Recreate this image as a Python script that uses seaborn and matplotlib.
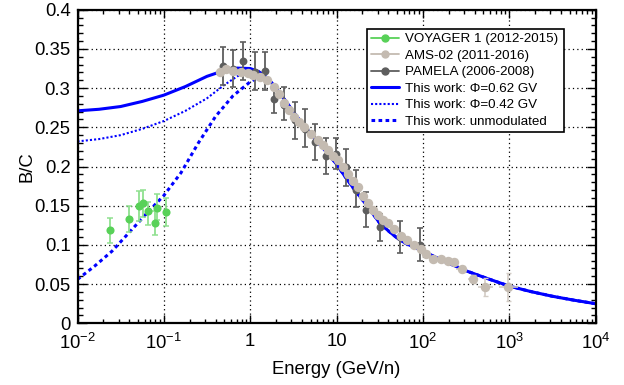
import matplotlib
matplotlib.use("Agg")
import matplotlib.pyplot as plt
import numpy as np
import pandas as pd
import seaborn as sns
from matplotlib.lines import Line2D
from matplotlib.ticker import FixedLocator, FixedFormatter, LogLocator, NullFormatter, MultipleLocator

# ---------------- data ----------------
voyager_E = [0.0238, 0.0396, 0.0516, 0.0580, 0.0662, 0.0797, 0.0843, 0.1064]
voyager_BC = [0.119, 0.133, 0.150, 0.153, 0.143, 0.1276, 0.1475, 0.1424]
voyager_top = [0.134, 0.149, 0.169, 0.170, 0.155, 0.143, 0.165, 0.160]
voyager_bot = [0.103, 0.117, 0.130, 0.136, 0.125, 0.113, 0.132, 0.1245]

pamela_E = [0.48, 0.64, 0.835, 1.13, 1.48, 1.88, 2.46, 3.27, 4.32, 5.64, 7.51, 9.8,
            12.8, 16.7, 21.9, 31.8, 55.0, 93.0]
pamela_BC = [0.328, 0.324, 0.334, 0.321, 0.322, 0.286, 0.279, 0.259, 0.248, 0.231, 0.2135,
             0.216, 0.199, 0.170, 0.1445, 0.1224, 0.110, 0.100]
pamela_top = [0.353, 0.349, 0.359, 0.346, 0.346, 0.304, 0.301, 0.2825, 0.273, 0.254, 0.236,
              0.236, 0.2225, 0.195, 0.168, 0.140, 0.1305, 0.121]
pamela_bot = [0.304, 0.301, 0.310, 0.298, 0.298, 0.268, 0.259, 0.2355, 0.225, 0.208, 0.191,
              0.197, 0.1755, 0.148, 0.123, 0.105, 0.0895, 0.079]

ams_E = [0.452, 0.530, 0.640, 0.775, 0.935, 1.09, 1.31, 1.55, 1.87, 2.13, 2.44, 2.79, 3.18,
         3.64, 4.17, 5.02, 6.05, 6.92, 7.92, 9.06, 10.35, 11.8, 13.5, 15.5, 17.7, 20.2, 23.1,
         26.4, 30.2, 34.5, 39.5, 46.4, 56.0, 65.7, 79.3, 95.5, 109.0, 132.0, 163.0, 197.0,
         231.0, 284.0, 381.0, 530.0, 973.0]
ams_BC = [0.321, 0.325, 0.322, 0.320, 0.319, 0.317, 0.3146, 0.310, 0.302, 0.292, 0.281, 0.272,
          0.2635, 0.257, 0.251, 0.242, 0.234, 0.227, 0.221, 0.214, 0.208, 0.199, 0.191, 0.182,
          0.174, 0.163, 0.153, 0.145, 0.138, 0.132, 0.1276, 0.120, 0.1115, 0.106, 0.100, 0.095,
          0.089, 0.0816, 0.0816, 0.080, 0.0786, 0.069, 0.0565, 0.0467, 0.0467]
ams_err = [0.002] * 36 + [0.003, 0.003, 0.003, 0.003, 0.003, 0.004, 0.005, 0.0115, 0.018]
ams_tail_E = [284.0, 381.0, 530.0, 973.0]
ams_tail_BC = [0.069, 0.0565, 0.0467, 0.0467]
ams_tail_lo = [244.0, 333.0, 437.0, 771.0]
ams_tail_hi = [327.0, 437.0, 652.0, 1274.0]

model_E = [0.01, 0.0178, 0.0316, 0.0562, 0.1, 0.178, 0.316, 0.501, 0.708, 1.0, 1.26, 1.58,
           2.0, 2.51, 3.16, 3.98, 5.01, 6.31, 7.94, 10.0, 12.6, 15.8, 20.0, 25.1, 31.6, 39.8,
           50.1, 63.1, 79.4, 100.0, 178.0, 316.0, 562.0, 1000.0, 1778.0, 3162.0, 5623.0, 10000.0]
bc_phi062 = [0.271, 0.273, 0.2765, 0.283, 0.291, 0.302, 0.315, 0.3225, 0.3255, 0.325, 0.321,
             0.313, 0.300, 0.285, 0.270, 0.255, 0.242, 0.229, 0.2165, 0.203, 0.187, 0.172,
             0.1575, 0.143, 0.128, 0.118, 0.109, 0.102, 0.097, 0.092, 0.079, 0.067, 0.057,
             0.0475, 0.0405, 0.0345, 0.0295, 0.025]
bc_phi042 = [0.232, 0.235, 0.240, 0.248, 0.258, 0.271, 0.287, 0.304, 0.315, 0.321, 0.3215,
             0.314, 0.300, 0.285, 0.270, 0.255, 0.242, 0.229, 0.2165, 0.203, 0.187, 0.172,
             0.1575, 0.143, 0.128, 0.118, 0.109, 0.102, 0.097, 0.092, 0.079, 0.067, 0.057,
             0.0475, 0.0405, 0.0345, 0.0295, 0.025]
unmod_E = [0.01, 0.0158, 0.0251, 0.0398, 0.0631, 0.1, 0.158, 0.251, 0.398, 0.631, 1.0, 1.26,
           1.58, 2.0, 2.51, 3.16, 3.98, 5.01, 6.31, 7.94, 10.0, 12.6, 15.8, 20.0, 25.1, 31.6,
           39.8, 50.1, 63.1, 79.4, 100.0, 178.0, 316.0, 562.0, 1000.0, 1778.0, 3162.0, 5623.0,
           10000.0]
bc_unmod = [0.056, 0.073, 0.092, 0.116, 0.140, 0.163, 0.192, 0.230, 0.264, 0.290, 0.308, 0.314,
            0.313, 0.300, 0.285, 0.270, 0.255, 0.242, 0.229, 0.2165, 0.203, 0.187, 0.172,
            0.1575, 0.143, 0.128, 0.118, 0.109, 0.102, 0.097, 0.092, 0.079, 0.067, 0.057,
            0.0475, 0.0405, 0.0345, 0.0295, 0.025]

x_ticks = [1e-2, 1e-1, 1, 10, 1e2, 1e3, 1e4]
x_ticklabels = ['$10^{-2}$', '$10^{-1}$', '1', '10', '$10^{2}$', '$10^{3}$', '$10^{4}$']
y_ticks = [0, 0.05, 0.1, 0.15, 0.2, 0.25, 0.3, 0.35, 0.4]
y_ticklabels = ['0', '0.05', '0.1', '0.15', '0.2', '0.25', '0.3', '0.35', '0.4']

labels = ['VOYAGER 1 (2012-2015)', 'AMS-02 (2011-2016)', 'PAMELA (2006-2008)',
          'This work: \u03a6=0.62 GV', 'This work: \u03a6=0.42 GV', 'This work: unmodulated']

# ---------------- style ----------------
sns.set_theme(style='ticks')
plt.rcParams['font.family'] = ['Liberation Sans', 'DejaVu Sans']
plt.rcParams['mathtext.fontset'] = 'custom'
plt.rcParams['mathtext.rm'] = 'Liberation Sans'
plt.rcParams['mathtext.it'] = 'Liberation Sans:italic'
plt.rcParams['mathtext.bf'] = 'Liberation Sans:bold'
plt.rcParams['axes.unicode_minus'] = True

GREEN = '#58d158'
GREEN_ERR = '#8fe08f'
TAN = '#c4bbb1'
TAN_ERR = '#d3ccc5'
GRAY = '#5e5e5e'
BLUE = '#0000ff'

fig = plt.figure(figsize=(6.24, 3.85), dpi=100)
fig.patch.set_facecolor('white')
L, R, T, B = 77.5, 595.5, 9.7, 323.3
ax = fig.add_axes([L / 624, 1 - B / 385, (R - L) / 624, (B - T) / 385])
ax.set_facecolor('white')

# model curves
sns.lineplot(x=unmod_E, y=bc_unmod, ax=ax, color=BLUE, linewidth=2.2,
             linestyle=(0, (1.2, 1.1)), sort=False, estimator=None, zorder=2)
sns.lineplot(x=model_E, y=bc_phi042, ax=ax, color=BLUE, linewidth=1.5,
             linestyle=(0, (1.0, 1.0)), sort=False, estimator=None, zorder=2)
sns.lineplot(x=model_E, y=bc_phi062, ax=ax, color=BLUE, linewidth=2.2,
             linestyle='-', sort=False, estimator=None, zorder=2.1)

# PAMELA
pe = np.array(pamela_E); pb = np.array(pamela_BC)
ax.errorbar(pe, pb, yerr=[pb - np.array(pamela_bot), np.array(pamela_top) - pb],
            fmt='none', ecolor=GRAY, elinewidth=1.3, capsize=2.2, capthick=1.2, zorder=3)
sns.scatterplot(x=pamela_E, y=pamela_BC, ax=ax, color=GRAY, s=32, linewidth=0, zorder=3.1)

# AMS-02
ax.errorbar(ams_E, ams_BC, yerr=ams_err, fmt='none', ecolor=TAN_ERR, elinewidth=1.2,
            capsize=1.8, capthick=1.0, zorder=4)
te = np.array(ams_tail_E)
ax.errorbar(ams_tail_E, ams_tail_BC, xerr=[te - np.array(ams_tail_lo), np.array(ams_tail_hi) - te],
            fmt='none', ecolor=TAN_ERR, elinewidth=1.2, capsize=0, zorder=4)
sns.scatterplot(x=ams_E, y=ams_BC, ax=ax, color=TAN, s=46, linewidth=0, zorder=4.1)

# Voyager
ve = np.array(voyager_E); vb = np.array(voyager_BC)
ax.errorbar(ve, vb, yerr=[vb - np.array(voyager_bot), np.array(voyager_top) - vb],
            fmt='none', ecolor=GREEN_ERR, elinewidth=1.3, capsize=2.0, capthick=1.1, zorder=5)
sns.scatterplot(x=voyager_E, y=voyager_BC, ax=ax, color=GREEN, s=34, linewidth=0, zorder=5.1)

# axes
ax.set_xscale('log')
ax.set_xlim(1e-2, 1e4)
ax.set_ylim(0, 0.4)
ax.xaxis.set_major_locator(FixedLocator(x_ticks))
ax.xaxis.set_major_formatter(FixedFormatter(x_ticklabels))
ax.xaxis.set_minor_locator(LogLocator(base=10, subs=np.arange(2, 10), numticks=20))
ax.xaxis.set_minor_formatter(NullFormatter())
ax.yaxis.set_major_locator(FixedLocator(y_ticks))
ax.yaxis.set_major_formatter(FixedFormatter(y_ticklabels))
ax.yaxis.set_minor_locator(MultipleLocator(0.01))

ax.tick_params(which='both', direction='in', top=True, right=True, colors='black',
               labelsize=13.3, width=1.0)
ax.tick_params(axis='x', which='major', length=5.5, pad=7)
ax.tick_params(axis='x', which='minor', length=3)
ax.tick_params(axis='y', which='major', length=6.5, pad=5)
ax.tick_params(axis='y', which='minor', length=3.5)
for s in ax.spines.values():
    s.set_linewidth(1.6)
    s.set_color('black')

ax.grid(True, which='major', color='black', linestyle=(0, (1, 2.5)), linewidth=0.9)
ax.set_axisbelow(True)

ax.set_xlabel('Energy (GeV/n)', fontsize=13.3, labelpad=6, color='black')
ax.set_ylabel('B/C', fontsize=13.3, labelpad=-1, color='black')

# legend
handles = [
    Line2D([], [], color=GREEN, marker='o', markersize=5, lw=1.3),
    Line2D([], [], color=TAN, marker='o', markersize=5, lw=1.3),
    Line2D([], [], color=GRAY, marker='o', markersize=5, lw=1.3),
    Line2D([], [], color=BLUE, lw=2.2, linestyle='-'),
    Line2D([], [], color=BLUE, lw=1.5, linestyle=(0, (1.0, 1.0))),
    Line2D([], [], color=BLUE, lw=2.2, linestyle=(0, (1.2, 1.1))),
]
lx0 = (367 - L) / (R - L)
ly1 = (B - 29) / (B - T)
lx1 = (564 - L) / (R - L)
ly0 = (B - 147) / (B - T)
leg = ax.legend(handles, labels, loc='upper left',
                bbox_to_anchor=(lx0, ly0, lx1 - lx0, ly1 - ly0), mode='expand',
                borderaxespad=0, fontsize=9.6, frameon=True, fancybox=False, shadow=False,
                framealpha=1, edgecolor='black', handlelength=2.1, handletextpad=0.45,
                labelspacing=0.31, borderpad=0.3)
leg.get_frame().set_linewidth(1.2)
leg.set_zorder(10)
for t in leg.get_texts():
    t.set_color('black')

fig.savefig('out.png', dpi=100, facecolor='white')
